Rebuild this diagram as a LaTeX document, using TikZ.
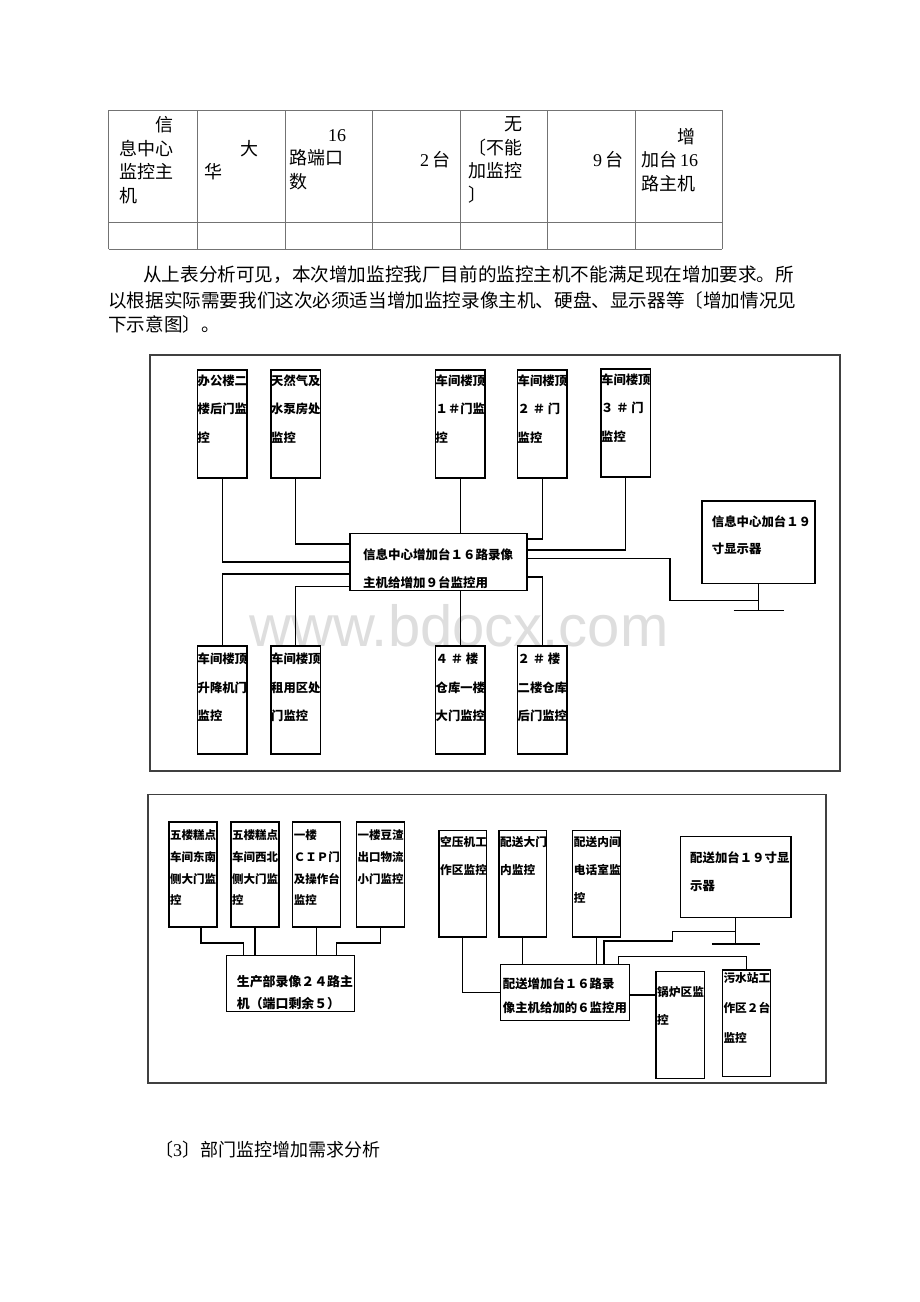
\documentclass[tikz,border=0pt]{standalone}
\usepackage{fontspec}
\setmainfont{Liberation Serif}
\newfontfamily\cjk{Noto Sans CJK SC}
\newfontfamily\wmfont{Liberation Sans}

\begin{document}
\begin{tikzpicture}[x=1pt,y=-1pt,
  cam/.style={draw, line width=1.2pt, inner sep=0pt, outer sep=0pt, minimum width=49.5pt, minimum height=108pt, anchor=north west},
  cam2/.style={draw, line width=1.2pt, inner sep=0pt, outer sep=0pt, minimum width=48pt, minimum height=105pt, anchor=north west},
  hostbox/.style={draw, line width=1.2pt, inner sep=0pt, outer sep=0pt, anchor=north west},
  wire/.style={line width=1.2pt},
  frame/.style={draw=black!75, line width=1.4pt},
  tbl/.style={black!55, line width=0.9pt},
  cell/.style n args={2}{font=\cjk\fontsize{#1}{#2}\selectfont, align=left, inner sep=0pt, anchor=north west},
  lbl/.style n args={2}{font=\cjk\bfseries\fontsize{#1}{#2}\selectfont, align=left, inner sep=0pt, anchor=north west},
  body/.style={font=\cjk\fontsize{18.6}{22}\selectfont, inner sep=0pt, anchor=west}]

\fill[white] (0,0) rectangle (920,1302);
\useasboundingbox (0,0) rectangle (920,1302);

%%%%% table %%%%%
\foreach \x in {108.5,197.5,285,372,460,547,635,722}
  \draw[tbl] (\x,110) -- (\x,249);
\foreach \y in {110,222,249}
  \draw[tbl] (108.5,\y) -- (722,\y);

\node[cell={18}{23.5}] (t1) at (119,116.4) {\hspace*{2em}信\\息中心\\监控主\\机};
\node[cell={18}{23.5}] (t2) at (204.6,139.7) {\hspace*{2em}大\\华};
\node[cell={18}{23.5}] (t3) at (289,127.7) {\hspace*{2em}\,{\rmfamily 16}\vphantom{口}\\路端口\\数};
\node[cell={18}{23.5}, anchor=west] (t4) at (420,159.5) {{\rmfamily 2}\,台};
\node[cell={18}{23.5}] (t5) at (468,116.4) {\hspace*{2em}无\\〔不能\\加监控\\〕};
\node[cell={18}{23.5}, anchor=west] (t6) at (593,159.5) {{\rmfamily 9}\,台};
\node[cell={18}{23.5}] (t7) at (641,127.7) {\hspace*{2em}增\\加台\,{\rmfamily 16}\\路主机};

%%%%% text %%%%%
\node[body] (par1) at (143,275) {从上表分析可见，本次增加监控我厂目前的监控主机不能满足现在增加要求。所};
\node[body] (par2) at (108,300) {以根据实际需要我们这次必须适当增加监控录像主机、硬盘、显示器等〔增加情况见};
\node[body] (par3) at (108,324) {下示意图〕。};

%%%%% watermark %%%%%
\node[font=\wmfont\fontsize{58}{58}\selectfont, text=black!13, inner sep=0pt, text depth=0pt, anchor=base] (wm) at (459,646) {www.bdocx.com};

%%%%% diagram 1 %%%%%
\draw[frame] (150,355) rectangle (840,771);

\node[cam] (oa) at (197.5,370) {};
\node[cam] (ob) at (271,370) {};
\node[cam] (oc) at (435.5,370) {};
\node[cam] (od) at (517.5,370) {};
\node[cam] (oe) at (601,369) {};
\node[cam] (of) at (197.5,646) {};
\node[cam] (og) at (271,646) {};
\node[cam] (oh) at (435.5,646) {};
\node[cam] (oi) at (517.5,646) {};
\node[hostbox, minimum width=177pt, minimum height=57.2pt] (host) at (350,533.3) {};
\node[hostbox, minimum width=113pt, minimum height=82.5pt] (mon1) at (702,501) {};
\coordinate (foot1) at ([yshift=-27pt]mon1.south);

\node[lbl={12.3}{28.5}] (oa-t) at ([yshift=-4.3pt]oa.north west) {办公楼二\\楼后门监\\控};
\node[lbl={12.3}{28.5}] (ob-t) at ([yshift=-4.3pt]ob.north west) {天然气及\\水泵房处\\监控};
\node[lbl={12.3}{28.5}] (oc-t) at ([yshift=-4.3pt]oc.north west) {车间楼顶\\１＃门监\\控};
\node[lbl={12.3}{28.5}] (od-t) at ([yshift=-4.3pt]od.north west) {车间楼顶\\２ ＃ 门\\监控};
\node[lbl={12.3}{28.5}] (oe-t) at ([yshift=-4.3pt]oe.north west) {车间楼顶\\３ ＃ 门\\监控};
\node[lbl={12.3}{28.5}] (of-t) at ([yshift=-7pt]of.north west) {车间楼顶\\升降机门\\监控};
\node[lbl={12.3}{28.5}] (og-t) at ([yshift=-7pt]og.north west) {车间楼顶\\租用区处\\门监控};
\node[lbl={12.3}{28.5}] (oh-t) at ([yshift=-7pt]oh.north west) {４ ＃ 楼\\仓库一楼\\大门监控};
\node[lbl={12.3}{28.5}] (oi-t) at ([yshift=-7pt]oi.north west) {２ ＃ 楼\\二楼仓库\\后门监控};
\node[lbl={12.5}{28}] (host-t) at ([xshift=13pt,yshift=-15pt]host.north west) {信息中心增加台１６路录像\\主机给增加９台监控用};
\node[lbl={12.4}{27.5}] (mon1-t) at ([xshift=9.7pt,yshift=-14pt]mon1.north west) {信息中心加台１９\\寸显示器};

\draw[wire] (oa.south) |- ([yshift=-28.7pt]host.north west);
\draw[wire] (ob.south) |- ([yshift=-10.7pt]host.north west);
\draw[wire] (oc.south) -- (oc.south |- host.north);
\draw[wire] (od.south) |- ([yshift=-5.7pt]host.north east);
\draw[wire] (oe.south) |- ([yshift=-16.7pt]host.north east);
\draw[wire] ([yshift=-40.7pt]host.north west) -| (of.north);
\draw[wire] ([yshift=-53.4pt]host.north west) -| (og.north);
\draw[wire] (oh.north |- host.south) -- (oh.north);
\draw[wire] ([yshift=-43.7pt]host.north east) -| (oi.north);
\draw[wire] ([yshift=-25.2pt]host.north east) -| ([xshift=-88.5pt,yshift=10pt]foot1) -- ([yshift=10pt]foot1);
\draw[wire] (mon1.south) -- (foot1);
\draw[wire] ([xshift=-25pt]foot1) -- ([xshift=25pt]foot1);

%%%%% diagram 2 %%%%%
\draw[frame] (148,794.5) rectangle (826,1083);

\node[cam2] (p1) at (169,822) {};
\node[cam2] (p2) at (231,822) {};
\node[cam2] (p3) at (292.7,822) {};
\node[cam2] (p4) at (356.4,822) {};
\node[hostbox, minimum width=127.6pt, minimum height=56pt] (ph) at (226.7,955.7) {};

\node[lbl={11.5}{21.7}] (p1-t) at ([xshift=1pt,yshift=-7.7pt]p1.north west) {五楼糕点\\车间东南\\侧大门监\\控};
\node[lbl={11.5}{21.7}] (p2-t) at ([xshift=1pt,yshift=-7.7pt]p2.north west) {五楼糕点\\车间西北\\侧大门监\\控};
\node[lbl={11.5}{21.7}] (p3-t) at ([xshift=1pt,yshift=-7.7pt]p3.north west) {一楼\\ＣＩＰ门\\及操作台\\监控};
\node[lbl={11.5}{21.7}] (p4-t) at ([xshift=1pt,yshift=-7.7pt]p4.north west) {一楼豆渣\\出口物流\\小门监控};
\node[lbl={12.9}{22.3}] (ph-t) at ([xshift=10pt,yshift=-19pt]ph.north west) {生产部录像２４路主\\机（端口剩余５）};

\draw[wire] ([xshift=8pt]p1.south) |- ([xshift=16.6pt,yshift=12.7pt]ph.north west) -- ([xshift=16.6pt]ph.north west);
\draw[wire] (p2.south) -- (p2.south |- ph.north);
\draw[wire] (p3.south) -- (p3.south |- ph.north);
\draw[wire] (p4.south) |- ([xshift=-17.6pt,yshift=12.7pt]ph.north east) -- ([xshift=-17.6pt]ph.north east);

\node[cam2, minimum width=47.5pt, minimum height=106.5pt] (q1) at (439,830.5) {};
\node[cam2, minimum width=47.5pt, minimum height=106.5pt] (q2) at (499,830.5) {};
\node[cam2, minimum width=47.5pt, minimum height=106.5pt] (q3) at (572.7,830.5) {};
\node[cam2, minimum width=48.3pt, minimum height=106.6pt] (q4) at (656,971.7) {};
\node[cam2, minimum width=48.4pt, minimum height=106.7pt] (q5) at (722.3,970) {};
\node[hostbox, minimum width=128.6pt, minimum height=56.4pt] (h2) at (500.7,964.3) {};
\node[hostbox, minimum width=110.3pt, minimum height=80.6pt] (mon2) at (680.7,836.7) {};
\coordinate (foot2) at ([yshift=-26.7pt]mon2.south);

\node[lbl={11.7}{28}] (q1-t) at ([xshift=1pt,yshift=-6pt]q1.north west) {空压机工\\作区监控};
\node[lbl={11.7}{28}] (q2-t) at ([xshift=1pt,yshift=-6pt]q2.north west) {配送大门\\内监控};
\node[lbl={11.7}{28}] (q3-t) at ([xshift=1pt,yshift=-6pt]q3.north west) {配送内间\\电话室监\\控};
\node[lbl={11.7}{28.3}] (q4-t) at ([xshift=1pt,yshift=-14.5pt]q4.north west) {锅炉区监\\控};
\node[lbl={11.7}{30}] (q5-t) at ([xshift=1pt,yshift=-2.5pt]q5.north west) {污水站工\\作区２台\\监控};
\node[lbl={12.4}{23.4}] (h2-t) at ([xshift=2pt,yshift=-13.3pt]h2.north west) {配送增加台１６路录\\像主机给加的６监控用};
\node[lbl={12.4}{28.3}] (mon2-t) at ([xshift=9.3pt,yshift=-14.3pt]mon2.north west) {配送加台１９寸显\\示器};

\draw[wire] (q1.south) |- ([yshift=-28pt]h2.north west);
\draw[wire] (q2.south) -- (q2.south |- h2.north);
\draw[wire] (q3.south) -- (q3.south |- h2.north);
\draw[wire] ([xshift=103.3pt]h2.north west) |- ([xshift=-63.3pt,yshift=3pt]foot2) |- ([yshift=12.3pt]foot2);
\draw[wire] ([xshift=117.6pt]h2.north west) |- ([yshift=13.3pt]q5.north) -- (q5.north);
\draw[wire] ([yshift=-30.7pt]h2.north east) -- ([yshift=-23.3pt]q4.north west);
\draw[wire] (mon2.south) -- (foot2);
\draw[wire] ([xshift=-24pt]foot2) -- ([xshift=24pt]foot2);

%%%%% heading %%%%%
\node[font=\cjk\fontsize{18}{22}\selectfont, inner sep=0pt, anchor=west] (sec3) at (155,1150) {〔{\rmfamily 3}〕部门监控增加需求分析};
\end{tikzpicture}
\end{document}
